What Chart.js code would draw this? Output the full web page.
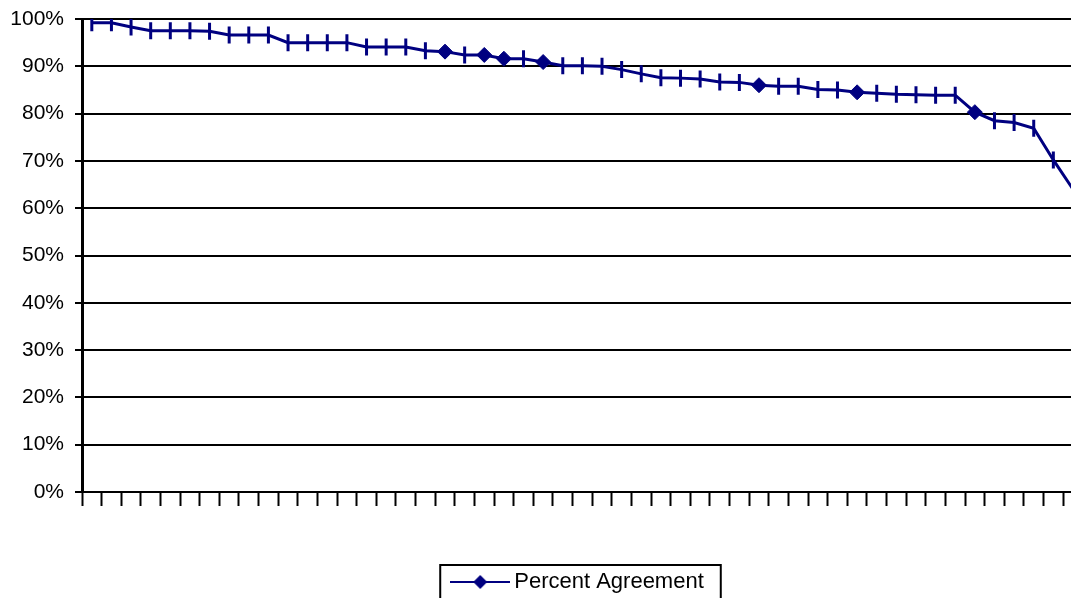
<!DOCTYPE html>
<html>
<head>
<meta charset="utf-8">
<title>Percent Agreement</title>
<script src="https://cdn.jsdelivr.net/npm/chart.js@4/dist/chart.umd.min.js"></script>
<style>
  html, body { margin: 0; padding: 0; background: #fff; }
  #wrap { width: 1071px; height: 598px; overflow: hidden; position: relative; }
  #chart { display: block; }
</style>
</head>
<body>
<div id="wrap">
  <canvas id="chart" width="1161" height="603"></canvas>
</div>
<script>
// Percent agreement per item, sorted high to low
const agreement = [
    99.2, 99.2, 98.3, 97.5, 97.5, 97.5, 97.4, 96.6, 96.6, 96.6,
    95.0, 95.0, 95.0, 95.0, 94.1, 94.1, 94.1, 93.3, 93.1, 92.4,
    92.4, 91.6, 91.6, 90.9, 90.1, 90.1, 90.0, 89.3, 88.4, 87.6,
    87.5, 87.3, 86.7, 86.6, 86.0, 85.8, 85.8, 85.1, 85.0, 84.5,
    84.3, 84.1, 84.0, 83.9, 83.9, 80.3, 78.5, 78.1, 76.9, 70.2,
    64.0
];
// items drawn with a diamond instead of a bar marker
const diamondPoints = [18, 20, 21, 23, 34, 39, 45];
const yTicks = [0, 10, 20, 30, 40, 50, 60, 70, 80, 90, 100];
const seriesName = 'Percent Agreement';

const NAVY = '#000080';
const FONT = "'Liberation Sans', Arial, sans-serif";
const xSlots = 54.4;

// legend symbol: short line with a diamond in the middle
function legendSymbol() {
    const c = document.createElement('canvas');
    c.width = 60;
    c.height = 20;
    const g = c.getContext('2d');
    g.strokeStyle = NAVY;
    g.lineWidth = 2;
    g.beginPath();
    g.moveTo(0, 10);
    g.lineTo(60, 10);
    g.stroke();
    g.fillStyle = NAVY;
    g.beginPath();
    g.moveTo(30, 3);
    g.lineTo(37, 10);
    g.lineTo(30, 17);
    g.lineTo(23, 10);
    g.closePath();
    g.fill();
    return c;
}

// box around the legend
const legendFrame = {
    id: 'legendFrame',
    afterDraw(chart) {
        const hb = chart.legend.legendHitBoxes[0];
        if (!hb) return;
        const ctx = chart.ctx;
        ctx.save();
        ctx.strokeStyle = '#000';
        ctx.lineWidth = 2;
        ctx.strokeRect(hb.left - 17, hb.top - 6, hb.width + 34, hb.height + 16);
        ctx.restore();
    }
};

const isDiamond = agreement.map((v, i) => diamondPoints.includes(i));
const symbol = legendSymbol();

new Chart(document.getElementById('chart'), {
    type: 'line',
    data: {
        datasets: [{
            label: seriesName,
            data: agreement.map((v, i) => ({ x: i + 0.5, y: v })),
            borderColor: NAVY,
            backgroundColor: NAVY,
            borderWidth: 3,
            tension: 0,
            pointStyle: isDiamond.map(d => d ? 'rectRot' : 'line'),
            pointRotation: isDiamond.map(d => d ? 0 : 90),
            pointRadius: isDiamond.map(d => d ? 7.5 : 8.5),
            pointBorderWidth: isDiamond.map(d => d ? 1 : 3),
            pointBorderColor: NAVY,
            pointBackgroundColor: NAVY
        }]
    },
    options: {
        responsive: false,
        animation: false,
        layout: { padding: { top: 19, left: 0, right: 0, bottom: 0 } },
        scales: {
            x: {
                type: 'linear',
                min: 0,
                max: xSlots,
                afterFit: s => { s.height = 69; },
                ticks: { display: false, stepSize: 1, maxTicksLimit: 200 },
                grid: {
                    drawOnChartArea: false,
                    drawTicks: true,
                    tickLength: 14,
                    tickColor: '#000',
                    tickWidth: 2
                },
                border: { color: '#000', width: 2 }
            },
            y: {
                min: 0,
                max: 100,
                afterFit: s => {
                    s.width = 82;
                    s.paddingTop = 0;
                    s.paddingBottom = 0;
                },
                afterBuildTicks: s => { s.ticks = yTicks.map(v => ({ value: v })); },
                ticks: {
                    color: '#000',
                    padding: 11,
                    font: { family: FONT, size: 21 },
                    callback: v => v + '%'
                },
                grid: {
                    color: '#000',
                    lineWidth: 2,
                    tickLength: 7,
                    tickColor: '#000',
                    tickWidth: 2
                },
                border: { color: '#000', width: 3 }
            }
        },
        plugins: {
            tooltip: { enabled: false },
            legend: {
                position: 'bottom',
                labels: {
                    usePointStyle: true,
                    pointStyleWidth: 46,
                    padding: 10,
                    color: '#000',
                    font: { family: FONT, size: 22 },
                    generateLabels: chart => [{
                        text: seriesName,
                        pointStyle: symbol,
                        fillStyle: NAVY,
                        strokeStyle: NAVY,
                        lineWidth: 0,
                        hidden: false,
                        datasetIndex: 0
                    }]
                }
            }
        }
    },
    plugins: [legendFrame]
});
</script>
</body>
</html>
